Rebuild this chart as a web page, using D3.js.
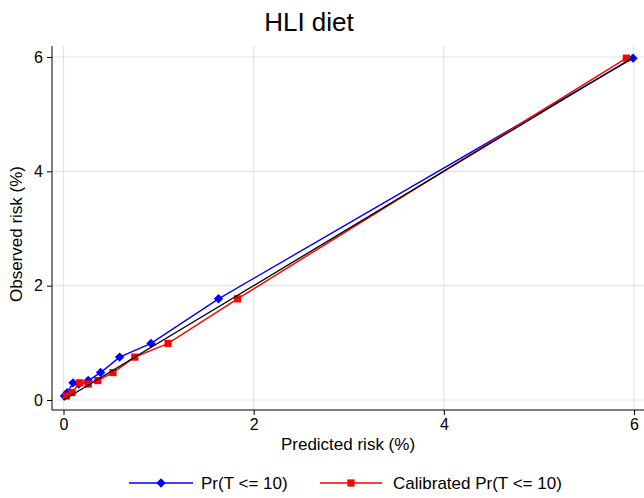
<!DOCTYPE html>
<html><head><meta charset="utf-8">
<script src="https://cdn.jsdelivr.net/npm/d3@7"></script>
<style>body{margin:0;background:#fff}svg{display:block;font-family:"Liberation Sans",Arial,sans-serif}</style>
</head><body>
<svg id="c" width="644" height="498"></svg>
<script>
const title = "HLI diet";
const xTicks = [0, 2, 4, 6];
const yTicks = [0, 2, 4, 6];
const observed = [0.07, 0.13, 0.30, 0.28, 0.34, 0.48, 0.75, 0.99, 1.77, 5.98];
const predRaw = [0.01, 0.04, 0.10, 0.16, 0.26, 0.39, 0.59, 0.92, 1.63, 5.99];
const predCal = [0.03, 0.09, 0.17, 0.26, 0.36, 0.52, 0.75, 1.10, 1.83, 5.92];
const seriesNames = ["Pr(T <= 10)", "Calibrated Pr(T <= 10)"];

const svg = d3.select("#c");
const x = d3.scaleLinear().domain([0, 6]).range([63.5, 634]);
const y = d3.scaleLinear().domain([0, 6]).range([400, 57]);
const pLeft = 52, pBottom = 410, pTop = 46, pRight = 644;

// grid
svg.append("g").selectAll("line").data(xTicks).join("line")
  .attr("x1", d => x(d)).attr("x2", d => x(d)).attr("y1", pTop).attr("y2", pBottom)
  .attr("stroke", "#e4e4e4").attr("stroke-width", 1.2);
svg.append("g").selectAll("line").data(yTicks).join("line")
  .attr("y1", d => y(d)).attr("y2", d => y(d)).attr("x1", pLeft).attr("x2", pRight)
  .attr("stroke", "#e4e4e4").attr("stroke-width", 1.2);

// axes
const xa = svg.append("g").attr("transform", `translate(0,${pBottom})`)
  .call(d3.axisBottom(x).tickValues(xTicks).tickSize(5).tickPadding(4).tickFormat(d3.format("d")));
const ya = svg.append("g").attr("transform", `translate(${pLeft},0)`)
  .call(d3.axisLeft(y).tickValues(yTicks).tickSize(5).tickPadding(4).tickFormat(d3.format("d")));
[xa, ya].forEach(g => {
  g.select(".domain").remove();
  g.selectAll("text").attr("font-size", 16).attr("fill", "#000").attr("font-family", "Liberation Sans, Arial, sans-serif");
  g.selectAll("line").attr("stroke", "#000");
});
svg.append("line").attr("x1", pLeft).attr("x2", pRight).attr("y1", pBottom).attr("y2", pBottom).attr("stroke", "#000");
svg.append("line").attr("x1", pLeft).attr("x2", pLeft).attr("y1", pTop).attr("y2", pBottom).attr("stroke", "#000");

// symbols
const diamond = d3.symbol().type(d3.symbolSquare).size(44);
const square = d3.symbol().type(d3.symbolSquare).size(52);
const series = [
  {name: seriesNames[0], xs: predRaw, color: "#0000ff", sym: diamond, rot: 45},
  {name: seriesNames[1], xs: predCal, color: "#ff0000", sym: square, rot: 0}
];
const line = d3.line().x(d => x(d[0])).y(d => y(d[1]));
series.forEach(s => {
  const pts = s.xs.map((v, i) => [v, observed[i]]);
  svg.append("path").datum(pts).attr("d", line).attr("fill", "none")
    .attr("stroke", s.color).attr("stroke-width", 1.4);
  svg.append("g").selectAll("path").data(pts).join("path")
    .attr("transform", d => `translate(${x(d[0])},${y(d[1])}) rotate(${s.rot})`)
    .attr("d", s.sym).attr("fill", s.color);
});
// reference line y=x
svg.append("path").datum([[0, 0], [6, 6]]).attr("d", line)
  .attr("stroke", "#000").attr("stroke-width", 1.4).attr("fill", "none");

// title & labels
svg.append("text").attr("x", 309).attr("y", 31).attr("text-anchor", "middle")
  .attr("font-size", 26).text(title);
svg.append("text").attr("x", 348).attr("y", 450).attr("text-anchor", "middle")
  .attr("font-size", 17).text("Predicted risk (%)");
svg.append("text").attr("transform", "translate(22,234) rotate(-90)").attr("text-anchor", "middle")
  .attr("font-size", 17).text("Observed risk (%)");

// legend
const leg = [{x0: 129, x1: 193, tx: 201}, {x0: 320, x1: 382, tx: 393}];
series.forEach((s, i) => {
  const L = leg[i], ly = 483;
  svg.append("line").attr("x1", L.x0).attr("x2", L.x1).attr("y1", ly).attr("y2", ly)
    .attr("stroke", s.color).attr("stroke-width", 1.4);
  svg.append("path").attr("transform", `translate(${(L.x0 + L.x1) / 2},${ly}) rotate(${s.rot})`)
    .attr("d", s.sym).attr("fill", s.color);
  svg.append("text").attr("x", L.tx).attr("y", ly + 6).attr("font-size", 17).text(s.name);
});
</script>
</body></html>
